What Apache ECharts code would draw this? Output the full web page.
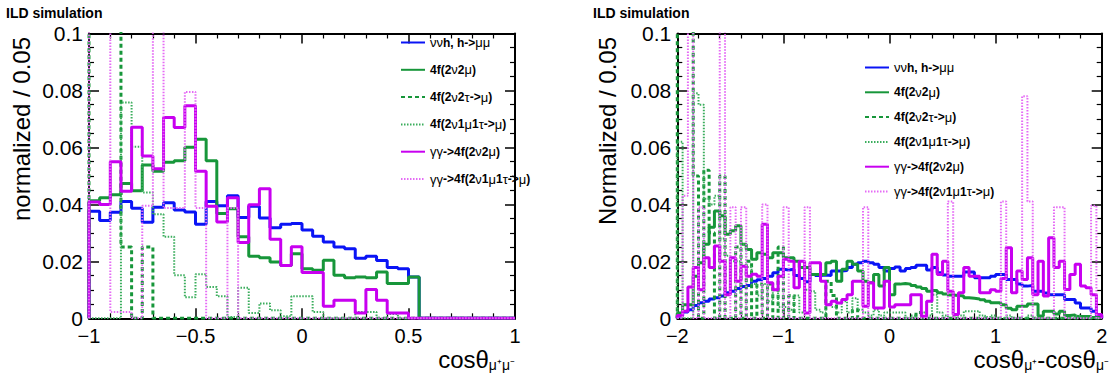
<!DOCTYPE html>
<html>
<head>
<meta charset="utf-8">
<script src="https://cdn.jsdelivr.net/npm/echarts@6/dist/echarts.min.js"></script>
<style>
html,body{margin:0;padding:0;background:#fff;}
#chart{width:1113px;height:376px;}
</style>
</head>
<body>
<div id="chart"></div>
<script>
// ---------------- data ----------------
const seriesNames = ['ννh, h->μμ', '4f(2ν2μ)', '4f(2ν2τ->μ)', '4f(2ν1μ1τ->μ)', 'γγ->4f(2ν2μ)', 'γγ->4f(2ν1μ1τ->μ)'];

// left panel: cos(theta_mu+mu-), 40 bins of 0.05 from -1 to 1
const leftRange = [-1, 1];
const leftBinWidth = 0.05;
const leftXTicks = [-1, -0.5, 0, 0.5, 1];
const left_nnh = [0.0376,0.0343,0.0372,0.0410,0.0386,0.0337,0.0390,0.0406,0.0380,0.0373,
                  0.0330,0.0410,0.0395,0.0430,0.0354,0.0393,0.0352,0.0318,0.0330,0.0333,
                  0.0310,0.0288,0.0268,0.0250,0.0244,0.0211,0.0218,0.0203,0.0178,0.0174,
                  0.0145,0,0,0,0,0,0,0,0,0];
const left_4f2v2mu = [0.0413,0.0423,0.0434,0.0473,0.0448,0.0538,0.0516,0.0548,0.0553,0.0601,
                      0.0629,0.0553,0.0368,0.0385,0.0286,0.0218,0.0213,0.0198,0.0185,0.0227,
                      0.0174,0.0169,0.0204,0.0151,0.0142,0.0145,0.0142,0.0163,0.0122,0.0122,
                      0.0145,0,0,0,0,0,0,0,0,0];
const left_4f2v2tau = [0.12,0.12,0.12,0.025,0,0.025,0,0,0,0,
                       0,0,0,0,0,0,0,0,0,0,
                       0,0,0,0,0,0,0,0,0,0,
                       0,0,0,0,0,0,0,0,0,0];
const left_4f2v1mu1tau = [0,0,0,0.0758,0.0602,0.0442,0.0365,0.0286,0.0151,0.0074,
                          0.0155,0.0110,0.0077,0.0005,0.0107,0.0019,0.0052,0.0028,0.0007,0.0077,
                          0.0077,0.0022,0,0,0,0.0022,0.0022,0,0.0015,0,
                          0,0,0,0,0,0,0,0,0,0];
const left_gg2v2mu = [0.0408,0.0400,0.0550,0.0446,0.0671,0.0570,0.0525,0.0705,0.0670,0.0746,
                      0.0516,0.0393,0.0338,0.0423,0.0266,0.0399,0.0455,0.0278,0.0185,0.0251,
                      0.0161,0.0161,0.0042,0.0063,0.0063,0.0019,0.0101,0.0063,0.0019,0.0019,
                      0,0,0,0,0,0,0,0,0,0];
const left_gg2v1mu1tau = [0.12,0.12,0.0022,0.0022,0,0.0395,0.12,0.0387,0.0387,0.0795,
                          0.0387,0,0,0.0387,0,0,0,0,0,0,
                          0,0,0,0,0,0,0,0,0,0,
                          0,0,0,0,0,0,0,0,0,0];

// right panel: cos(theta_mu+) - cos(theta_mu-), 80 bins of 0.05 from -2 to 2
const rightRange = [-2, 2];
const rightBinWidth = 0.05;
const rightXTicks = [-2, -1, 0, 1, 2];
const right_nnh = [0.0007,0.0022,0.0030,0.0045,0.0055,0.0060,0.0068,0.0072,0.0078,0.0090,
                   0.0095,0.0105,0.0112,0.0115,0.0130,0.0135,0.0140,0.0148,0.0160,0.0172,
                   0.0170,0.0172,0.0150,0.0140,0.0128,0.0154,0.0150,0.0152,0.0150,0.0166,
                   0.0166,0.0168,0.0178,0.0190,0.0195,0.0200,0.0195,0.0190,0.0178,0.0166,
                   0.0175,0.0180,0.0166,0.0175,0.0178,0.0186,0.0186,0.0170,0.0178,0.0160,
                   0.0152,0.0148,0.0148,0.0148,0.0163,0.0163,0.0142,0.0142,0.0142,0.0148,
                   0.0154,0.0154,0.0136,0.0136,0.0120,0.0113,0.0115,0.0095,0.0095,0.0089,
                   0.0083,0.0083,0.0083,0.0066,0.0066,0.0054,0.0036,0.0036,0.0025,0.0010];
const right_4f2v2mu = [0.0019,0.0048,0.0048,0.0148,0.0195,0.0260,0.0320,0.0377,0.0360,0.0295,
                       0.0307,0.0325,0.0260,0.0242,0.0207,0.0230,0.0225,0.0213,0.0230,0.0230,
                       0.0213,0.0213,0.0200,0.0178,0.0178,0.0154,0.0154,0.0154,0.0195,0.0200,
                       0.0130,0.0172,0.0200,0.0190,0.0166,0.0130,0.0125,0.0154,0.0113,0.0178,
                       0.0083,0.0120,0.0122,0.0120,0.0115,0.0110,0.0105,0.0095,0.0098,0.0090,
                       0.0085,0.0082,0.0080,0.0078,0.0072,0.0070,0.0068,0.0065,0.0060,0.0055,
                       0.0055,0.0048,0.0035,0.0030,0.0042,0.0042,0.0050,0.0050,0.0008,0.0025,
                       0.0025,0.0015,0.0025,0.0010,0.0012,0.0006,0.0006,0.0006,0.0003,0.0002];
const right_4f2v2tau = [0.12,0.12,0.12,0.050,0,0.052,0.030,0,0.050,0,
                        0,0.025,0,0.020,0,0.012,0,0.012,0,0.025,
                        0,0.008,0,0,0,0,0,0,0.013,0.008,
                        0,0,0,0.003,0,0,0,0,0,0,
                        0,0,0,0,0,0.002,0,0,0,0,
                        0,0,0,0,0,0,0,0,0,0,
                        0,0,0,0,0,0,0,0,0,0,
                        0,0,0,0,0,0,0,0,0,0];
const right_4f2v1mu1tau = [0.062,0,0,0.079,0.075,0.042,0.040,0.043,0.028,0.022,
                           0.020,0.020,0.026,0.018,0.012,0.008,0.012,0.006,0.010,0.004,
                           0.004,0.003,0.008,0.002,0.010,0.0095,0.003,0.002,0.005,0.004,
                           0.002,0.006,0.002,0.007,0.003,0.002,0.001,0.003,0.001,0.002,
                           0.002,0.002,0.002,0,0.001,0,0.002,0.001,0.0083,0.002,
                           0.001,0,0.001,0.001,0.0025,0.0025,0.0025,0.001,0.0005,0.001,
                           0,0,0.001,0,0,0,0.001,0,0,0,
                           0,0,0,0,0,0.001,0,0,0,0];
const right_gg2v2mu = [0.0010,0.0025,0.0110,0.0178,0.0100,0.0213,0.0178,0.0254,0.0200,0.0083,
                       0.0213,0.0130,0.0183,0.0148,0.0155,0.0148,0.0330,0.0125,0.0100,0.0148,
                       0.0207,0.0200,0.0107,0.0200,0.0019,0.0195,0.0195,0.0130,0.0048,0.0060,
                       0.0054,0.0066,0.0083,0.0130,0.0130,0.0042,0.0125,0.0036,0.0036,0.0130,
                       0.0040,0.0048,0.0048,0.0048,0.0083,0.0083,0.0007,0.0060,0.0225,0.0154,
                       0.0200,0.0095,0.0013,0.0090,0.0178,0.0148,0.0148,0.0090,0.0090,0.0100,
                       0.0095,0.0140,0.0248,0.0090,0.0166,0.0136,0.0213,0.0083,0.0200,0.0078,
                       0.0283,0.0178,0.0200,0.0101,0.0154,0.0190,0.0113,0.0107,0.0083,0.0013];
const right_gg2v1mu1tau = [0,0.043,0.12,0,0.039,0,0,0,0.12,0,
                           0.039,0,0.039,0,0,0,0.040,0,0,0,
                           0.039,0,0,0,0.039,0,0,0,0,0,
                           0,0,0,0,0,0.039,0,0,0,0,
                           0,0,0,0,0,0,0,0,0,0,
                           0,0.041,0,0,0,0,0,0,0,0,
                           0,0.041,0,0,0,0.078,0.041,0,0,0,
                           0,0.039,0.039,0,0,0,0,0,0.0395,0];

const yAxisMax = 0.1;
const yTickStep = 0.02;

// axis titles: [text, isSubscript]
const leftXTitle = [['cosθ', false], ['μ⁺μ⁻', true]];
const rightXTitle = [['cosθ', false], ['μ⁺', true], ['-cosθ', false], ['μ⁻', true]];

// ---------------- styles ----------------
const lineStyles = [
  {color: '#0a14f5', width: 3, type: 'solid'},
  {color: '#17963a', width: 3, type: 'solid'},
  {color: '#17963a', width: 3, type: [4, 3]},
  {color: '#3aad5c', width: 2, type: [1.5, 1.5]},
  {color: '#c800f0', width: 3, type: 'solid'},
  {color: '#e56bf5', width: 2, type: [1.5, 1.5]}
];

const leftData = [left_nnh, left_4f2v2mu, left_4f2v2tau, left_4f2v1mu1tau, left_gg2v2mu, left_gg2v1mu1tau];
const rightData = [right_nnh, right_4f2v2mu, right_4f2v2tau, right_4f2v1mu1tau, right_gg2v2mu, right_gg2v1mu1tau];

function histPoints(vals, x0, w) {
  const pts = [[x0, 0]];
  vals.forEach((v, i) => pts.push([+(x0 + i * w).toFixed(4), v]));
  pts.push([+(x0 + vals.length * w).toFixed(4), 0]);
  return pts;
}

const FONT = 'Liberation Sans';
const minus = v => (v < 0 ? '\u2212' + String(+(-v).toFixed(2)) : String(+v.toFixed(2)));

function xAxisDef(gridIndex, range, interval, position, labels) {
  return {
    type: 'value', gridIndex, position, min: range[0], max: range[1], interval,
    axisLine: {show: true, onZero: false, lineStyle: {color: '#000', width: 2}},
    axisTick: {show: true, inside: true, length: 10, lineStyle: {color: '#000', width: 1.5}},
    minorTick: {show: true, splitNumber: 5, length: 5, lineStyle: {color: '#000', width: 1.2}},
    splitLine: {show: false}, minorSplitLine: {show: false},
    axisLabel: {show: labels, margin: 9, fontSize: 20, lineHeight: 18, fontFamily: FONT, color: '#000',
                showMinLabel: true, showMaxLabel: true, formatter: minus}
  };
}
function yAxisDef(gridIndex, position, labels) {
  return {
    type: 'value', gridIndex, position, min: 0, max: yAxisMax, interval: yTickStep,
    axisLine: {show: true, onZero: false, lineStyle: {color: '#000', width: 2}},
    axisTick: {show: true, inside: true, length: 10, lineStyle: {color: '#000', width: 1.5}},
    minorTick: {show: true, splitNumber: 4, length: 5, lineStyle: {color: '#000', width: 1.2}},
    splitLine: {show: false}, minorSplitLine: {show: false},
    axisLabel: {show: labels, margin: 6, fontSize: 21, lineHeight: 18, fontFamily: FONT, color: '#000',
                showMinLabel: true, showMaxLabel: true, formatter: v => String(+v.toFixed(3))}
  };
}

const series = [];
leftData.forEach((vals, i) => {
  series.push({
    name: seriesNames[i], type: 'line', step: 'end', symbol: 'none', showSymbol: false,
    xAxisIndex: 0, yAxisIndex: 0, clip: true, silent: true, animation: false,
    lineStyle: Object.assign({}, lineStyles[i]), itemStyle: {color: lineStyles[i].color},
    data: histPoints(vals, leftRange[0], leftBinWidth)
  });
});
rightData.forEach((vals, i) => {
  series.push({
    name: seriesNames[i], type: 'line', step: 'end', symbol: 'none', showSymbol: false,
    xAxisIndex: 2, yAxisIndex: 2, clip: true, silent: true, animation: false,
    lineStyle: Object.assign({}, lineStyles[i]), itemStyle: {color: lineStyles[i].color},
    data: histPoints(vals, rightRange[0], rightBinWidth)
  });
});

const legendFormatter = name => name.replace(/([\u0370-\u03ff]+)/g, '{g|$1}');
function legendDef(left, top, gap) {
  return {
    show: true, orient: 'vertical', left, top, itemWidth: 24, itemHeight: 14, itemGap: gap,
    selectedMode: false, data: seriesNames, formatter: legendFormatter,
    itemStyle: {opacity: 0, borderWidth: 0},
    textStyle: {fontSize: 12, fontWeight: 'bold', fontFamily: FONT, color: '#000',
                rich: {g: {fontSize: 13, fontWeight: 'normal', fontFamily: FONT, color: '#000'}}}
  };
}

const txt = (x, y, text, size, weight, extra) => Object.assign({
  type: 'text', x, y, silent: true,
  style: {text, fontSize: size, fontWeight: weight || 'normal', fontFamily: FONT, fill: '#000'}
}, extra || {});

// axis title built from pieces, right-aligned at xEnd
const measureCtx = document.createElement('canvas').getContext('2d');
function textWidth(t, size) { measureCtx.font = size + 'px ' + FONT; return measureCtx.measureText(t).width; }
function buildTitle(pieces, xEnd, yMain, ySub, sizeMain, sizeSub) {
  const widths = pieces.map(p => textWidth(p[0], p[1] ? sizeSub : sizeMain));
  let x = xEnd - widths.reduce((a, b) => a + b, 0);
  return pieces.map((p, i) => {
    const el = txt(x, p[1] ? ySub : yMain, p[0], p[1] ? sizeSub : sizeMain, 'normal');
    el.style.verticalAlign = 'top';
    x += widths[i];
    return el;
  });
}

const chart = echarts.init(document.getElementById('chart'), null, {renderer: 'svg', width: 1113, height: 376});
chart.setOption({
  backgroundColor: '#fff',
  animation: false,
  grid: [
    {left: 89, right: 598, top: 33.5, bottom: 57.7, outerBoundsMode: 'none', containLabel: false},
    {left: 677.3, right: 11.3, top: 33.5, bottom: 57.7, outerBoundsMode: 'none', containLabel: false}
  ],
  xAxis: [
    xAxisDef(0, leftRange, 0.5, 'bottom', true),
    xAxisDef(0, leftRange, 0.5, 'top', false),
    xAxisDef(1, rightRange, 1, 'bottom', true),
    xAxisDef(1, rightRange, 1, 'top', false)
  ],
  yAxis: [
    yAxisDef(0, 'left', true),
    yAxisDef(0, 'right', false),
    yAxisDef(1, 'left', true),
    yAxisDef(1, 'right', false)
  ],
  legend: [legendDef(395, 31, 14.3), legendDef(859, 56, 11.8)],
  graphic: [
    txt(6, 6, 'ILD simulation', 14, 'bold'),
    txt(593, 6, 'ILD simulation', 14, 'bold'),
    {type: 'text', x: 21, y: 129, rotation: Math.PI / 2, silent: true,
     style: {text: 'normalized / 0.05', fontSize: 24, fontFamily: FONT, fill: '#000', align: 'center', verticalAlign: 'middle'}},
    {type: 'text', x: 607, y: 131, rotation: Math.PI / 2, silent: true,
     style: {text: 'Normalized / 0.05', fontSize: 24, fontFamily: FONT, fill: '#000', align: 'center', verticalAlign: 'middle'}}
  ].concat(buildTitle(leftXTitle, 515, 347, 358, 24, 14))
   .concat(buildTitle(rightXTitle, 1109, 347, 358, 24, 14)),
  series
});
</script>
</body>
</html>
